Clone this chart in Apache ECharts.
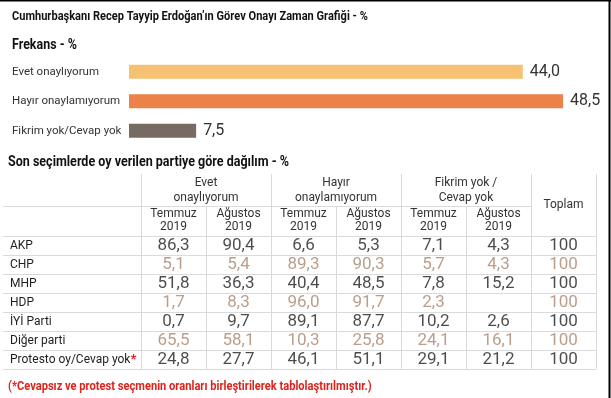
<!DOCTYPE html>
<html>
<head>
<meta charset="utf-8">
<script src="https://cdn.jsdelivr.net/npm/echarts@6/dist/echarts.min.js"></script>
<style>
  html, body { margin: 0; padding: 0; background: #fff; }
  #chart { width: 611px; height: 398px; }
</style>
</head>
<body>
<div id="chart"></div>
<script>
// Frekans - %
var answers = ['Evet onaylıyorum', 'Hayır onaylamıyorum', 'Fikrim yok/Cevap yok'];
var shares = [44.0, 48.5, 7.5];
var answerColors = ['#f6c173', '#ec8149', '#766a62'];

// Son seçimlerde oy verilen partiye göre dağılım - %
var parties = ['AKP', 'CHP', 'MHP', 'HDP', 'İYİ Parti', 'Diğer parti', 'Protesto oy/Cevap yok*'];
var groups = ['Evet\nonaylıyorum', 'Hayır\nonaylamıyorum', 'Fikrim yok /\nCevap yok'];
var periods = ['Temmuz\n2019', 'Ağustos\n2019'];
var evetTemmuz = [86.3, 5.1, 51.8, 1.7, 0.7, 65.5, 24.8];
var evetAgustos = [90.4, 5.4, 36.3, 8.3, 9.7, 58.1, 27.7];
var hayirTemmuz = [6.6, 89.3, 40.4, 96.0, 89.1, 10.3, 46.1];
var hayirAgustos = [5.3, 90.3, 48.5, 91.7, 87.7, 25.8, 51.1];
var fikrimTemmuz = [7.1, 5.7, 7.8, 2.3, 10.2, 24.1, 29.1];
var fikrimAgustos = [4.3, 4.3, 15.2, null, 2.6, 16.1, 21.2];
var toplam = [100, 100, 100, 100, 100, 100, 100];

var columns = [evetTemmuz, evetAgustos, hayirTemmuz, hayirAgustos, fikrimTemmuz, fikrimAgustos, toplam];
var colLabels = [periods[0], periods[1], periods[0], periods[1], periods[0], periods[1], ''];

var DARK = '#1e1e1e';
var BROWN = '#a9866e';
var RED = '#e0221c';
var LINE = '#dadada';
var numFont = 'Roboto, "DejaVu Sans", sans-serif';
var txtFont = 'Roboto, "Noto Sans", sans-serif';

function fmt(v) {
    return v.toFixed(1).replace('.', ',');
}

var cells = [];
for (var c = 0; c < columns.length; c++) {
    for (var r = 0; r < parties.length; r++) {
        var v = columns[c][r];
        if (v == null) continue;
        cells.push({
            value: [c, r, v],
            label: { color: r % 2 === 1 ? BROWN : DARK }
        });
    }
}

var tableLeft = 141, tableTop = 236, tableRight = 15, tableBottom = 29;
var headerTop = 174, headerMid = 206, tableStart = 3;

var chart = echarts.init(document.getElementById('chart'));

var option = {
    animation: false,
    grid: [
        { left: 129, top: 57, width: 447.5, height: 88.5 },
        { left: tableLeft, top: tableTop, right: tableRight, bottom: tableBottom }
    ],
    xAxis: [
        { gridIndex: 0, type: 'value', min: 0, max: 50, show: false },
        { gridIndex: 1, type: 'category', position: 'top', data: colLabels,
          axisLine: { show: false }, axisTick: { show: false },
          axisLabel: { interval: 0, margin: 3, fontFamily: txtFont, fontSize: 12, lineHeight: 13, color: '#333' },
          splitLine: { show: true, interval: 0, lineStyle: { color: LINE, width: 1 } } }
    ],
    yAxis: [
        { gridIndex: 0, type: 'category', data: answers, inverse: true,
          axisLine: { show: false }, axisTick: { show: false },
          axisLabel: { align: 'left', margin: 117, fontFamily: txtFont, fontSize: 11.5, color: '#333' } },
        { gridIndex: 1, type: 'category', data: parties, inverse: true,
          axisLine: { show: false }, axisTick: { show: false },
          axisLabel: {
              align: 'left', margin: 131, interval: 0, fontFamily: txtFont, fontSize: 12, color: DARK,
              formatter: function (val) {
                  if (val.charAt(val.length - 1) === '*') return val.slice(0, -1) + '{star|*}';
                  return val;
              },
              rich: { star: { color: RED, fontSize: 13, fontWeight: 'bold', fontFamily: txtFont } }
          },
          splitLine: { show: true, interval: 0, lineStyle: { color: LINE, width: 1 } } }
    ],
    series: [
        {
            type: 'bar', xAxisIndex: 0, yAxisIndex: 0, barWidth: 14,
            data: shares.map(function (v, i) { return { value: v, itemStyle: { color: answerColors[i] } }; }),
            label: { show: true, position: 'right', distance: 7, fontFamily: numFont, fontSize: 16, color: '#333',
                     formatter: function (p) { return fmt(p.value); } }
        },
        {
            type: 'scatter', xAxisIndex: 1, yAxisIndex: 1, symbolSize: 0,
            data: cells,
            label: { show: true, position: 'inside', fontFamily: numFont, fontSize: 17,
                     formatter: function (p) { return p.value[0] === 6 ? String(p.value[2]) : fmt(p.value[2]); } }
        }
    ]
};
chart.setOption(option);

// header + line extensions placed from the table axes
var x0 = chart.convertToPixel({ xAxisIndex: 1 }, 0);
var x1 = chart.convertToPixel({ xAxisIndex: 1 }, 1);
var y0 = chart.convertToPixel({ yAxisIndex: 1 }, 0);
var y1 = chart.convertToPixel({ yAxisIndex: 1 }, 1);
var colW = x1 - x0, rowH = y1 - y0;
function colEdge(k) { return Math.round(x0 - colW / 2 + k * colW) + 0.5; }
function rowEdge(k) { return Math.round(y0 - rowH / 2 + k * rowH) + 0.5; }

var g = [];
function line(xa, ya, xb, yb) {
    g.push({ type: 'line', silent: true, shape: { x1: xa, y1: ya, x2: xb, y2: yb },
             style: { stroke: LINE, lineWidth: 1 } });
}
function text(s, x, y, size, color) {
    g.push({ type: 'text', silent: true,
             style: { text: s, x: x, y: y, align: 'center', verticalAlign: 'middle',
                      font: size + 'px ' + txtFont, lineHeight: 15, fill: color } });
}
// condensed bold headings (no condensed face installed, so squeeze horizontally)
function heading(s, x, y, size, color, squeeze) {
    g.push({ type: 'text', silent: true, x: x, y: y, scaleX: squeeze,
             style: { text: s, x: 0, y: 0, align: 'left', verticalAlign: 'middle',
                      font: 'bold ' + size + 'px ' + txtFont, fill: color } });
}
heading('Cumhurbaşkanı Recep Tayyip Erdoğan\u2019ın Görev Onayı Zaman Grafiği - %', 12, 17, 13, '#111', 0.85);
heading('Frekans - %', 12, 45, 14, '#111', 0.89);
heading('Son seçimlerde oy verilen partiye göre dağılım - %', 8, 162, 15, '#111', 0.835);
heading('(*Cevapsız ve protest seçmenin oranları birleştirilerek tablolaştırılmıştır.)', 8, 387, 13, RED, 0.855);

// horizontal row lines to the left of the grid
for (var k = 0; k <= parties.length; k++) line(tableStart, rowEdge(k), colEdge(0), rowEdge(k));
line(tableStart, headerMid + 0.5, colEdge(6), headerMid + 0.5);
// vertical lines in header
for (var k = 0; k <= 7; k++) {
    var major = (k % 2 === 0) || k === 7;
    line(colEdge(k), major ? headerTop : headerMid, colEdge(k), rowEdge(0));
}
for (var i = 0; i < groups.length; i++) {
    text(groups[i], x0 - colW / 2 + (2 * i + 1) * colW, (headerTop + headerMid) / 2, 12, '#333');
}
text('Toplam', chart.convertToPixel({ xAxisIndex: 1 }, 6), (headerTop + rowEdge(0)) / 2, 12, '#333');

// frame
g.push({ type: 'line', silent: true, shape: { x1: 0, y1: 0.5, x2: 611, y2: 0.5 }, style: { stroke: '#000', lineWidth: 2 } });
g.push({ type: 'line', silent: true, shape: { x1: 609.5, y1: 0, x2: 609.5, y2: 398 }, style: { stroke: '#000', lineWidth: 2 } });

chart.setOption({ graphic: g });
</script>
</body>
</html>
